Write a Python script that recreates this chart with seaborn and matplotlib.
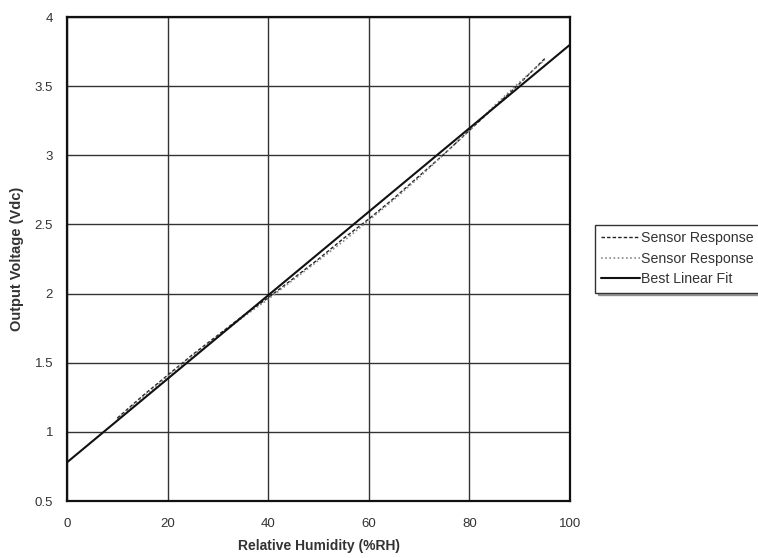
import matplotlib
matplotlib.use("Agg")
import matplotlib.pyplot as plt
import seaborn as sns
import pandas as pd

# values
rh = [10, 15, 20, 25, 30, 35, 40, 45, 50, 55, 60, 65, 70, 75, 80, 85, 90, 95]
sensor_a = [1.10, 1.26, 1.41, 1.56, 1.70, 1.84, 1.97, 2.11, 2.25, 2.40,
            2.54, 2.69, 2.85, 3.01, 3.18, 3.35, 3.52, 3.70]
sensor_b = [1.09, 1.25, 1.40, 1.55, 1.69, 1.83, 1.96, 2.10, 2.24, 2.38,
            2.53, 2.68, 2.84, 3.01, 3.18, 3.36, 3.53, 3.69]
fit_rh = [0, 100]
fit_v = [0.78, 3.80]

x_ticks = [0, 20, 40, 60, 80, 100]
y_ticks = [0.5, 1, 1.5, 2, 2.5, 3, 3.5, 4]

sns.set_style("white")
plt.rcParams['font.family'] = ['Liberation Sans', 'DejaVu Sans']

fig = plt.figure(figsize=(7.58, 5.58), dpi=100)
ax = fig.add_axes([0.0884, 0.102, 0.6636, 0.8675])

df_a = pd.DataFrame({"rh": rh, "v": sensor_a})
df_b = pd.DataFrame({"rh": rh, "v": sensor_b})
df_fit = pd.DataFrame({"rh": fit_rh, "v": fit_v})

sns.lineplot(data=df_a, x="rh", y="v", ax=ax, color="#222222", linewidth=1.0,
             linestyle=(0, (2.5, 1.5)), label="Sensor Response")
sns.lineplot(data=df_b, x="rh", y="v", ax=ax, color="#888888", linewidth=1.2,
             linestyle=(0, (1, 1.5)), label="Sensor Response")
sns.lineplot(data=df_fit, x="rh", y="v", ax=ax, color="#111111", linewidth=1.5,
             label="Best Linear Fit")

ax.set_xlim(0, 100)
ax.set_ylim(0.5, 4)
ax.set_xticks(x_ticks)
ax.set_yticks(y_ticks)
ax.set_xticklabels([str(t) for t in x_ticks])
ax.set_yticklabels(["0.5", "1", "1.5", "2", "2.5", "3", "3.5", "4"])
ax.grid(True, color="#333333", linewidth=1.0)
ax.set_axisbelow(True)
for s in ax.spines.values():
    s.set_color("#111111")
    s.set_linewidth(1.6)
ax.tick_params(axis="both", direction="out", length=4, width=1, color="#111111",
               labelsize=9.5, labelcolor="#333333", pad=6)
ax.tick_params(axis="x", pad=8)

ax.set_xlabel("Relative Humidity (%RH)", fontsize=10, fontweight="bold",
              color="#333333", labelpad=7)
ax.set_ylabel("Output Voltage (Vdc)", fontsize=10.5, fontweight="bold",
              color="#333333", labelpad=8)

leg = ax.legend(loc="upper left", bbox_to_anchor=(595 / 758, 1 - 225 / 558),
                bbox_transform=fig.transFigure, fontsize=10.2, frameon=True,
                fancybox=False, shadow=True, handlelength=2.7, handletextpad=0.1,
                borderpad=0.45, labelspacing=0.45, borderaxespad=0)
leg.get_frame().set_edgecolor("#333333")
leg.get_frame().set_linewidth(1.0)
for t in leg.get_texts():
    t.set_color("#333333")

fig.savefig("out.png", dpi=100)
